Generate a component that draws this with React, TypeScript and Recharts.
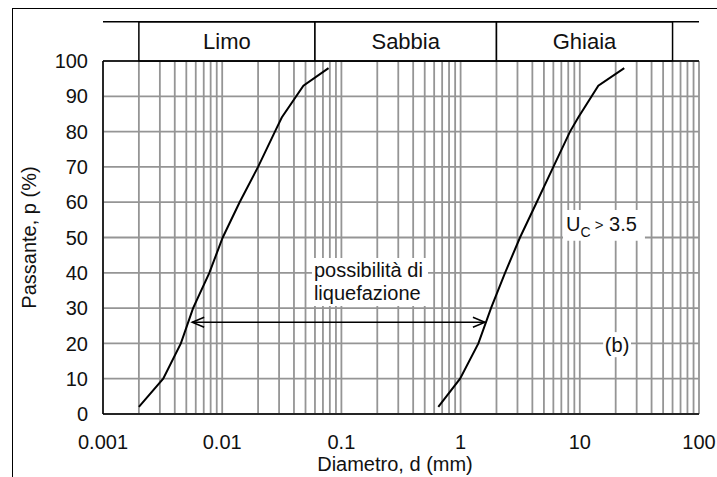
import { LineChart, Line, XAxis, YAxis, CartesianGrid, ReferenceArea, ReferenceLine } from "recharts";

const xTicks = [0.001, 0.01, 0.1, 1, 10, 100];
const yTicks = [0, 10, 20, 30, 40, 50, 60, 70, 80, 90, 100];
const decades = [0.001, 0.01, 0.1, 1, 10];
const steps = [1, 2, 3, 4, 5, 6, 7, 8, 9];
const gridX = [...decades.flatMap((d) => steps.map((s) => +(d * s).toPrecision(3))), 100];

// curva granulometrica limite fine / grossa
const curveFine = [
  { d: 0.002, p: 2 },
  { d: 0.0032, p: 10 },
  { d: 0.0045, p: 20 },
  { d: 0.0057, p: 30 },
  { d: 0.0078, p: 40 },
  { d: 0.0101, p: 50 },
  { d: 0.014, p: 60 },
  { d: 0.02, p: 70 },
  { d: 0.0277, p: 80 },
  { d: 0.0316, p: 84 },
  { d: 0.048, p: 93 },
  { d: 0.078, p: 98 },
];
const curveCoarse = [
  { d: 0.65, p: 2 },
  { d: 0.99, p: 10 },
  { d: 1.41, p: 20 },
  { d: 1.8, p: 30 },
  { d: 2.36, p: 40 },
  { d: 3.15, p: 50 },
  { d: 4.35, p: 60 },
  { d: 6.0, p: 70 },
  { d: 8.28, p: 80 },
  { d: 9.7, p: 84 },
  { d: 14.3, p: 93 },
  { d: 23.6, p: 98 },
];

const classes = [
  { name: "Limo", from: 0.002, to: 0.06 },
  { name: "Sabbia", from: 0.06, to: 2 },
  { name: "Ghiaia", from: 2, to: 60 },
];
const headerTop = 111.1;
const arrow = { from: 0.0056, to: 1.6, p: 26 };
const liqBox = { x1: 0.0566, x2: 0.533, y1: 30.6, y2: 44.2 };
const ucBox = { x1: 7.23, x2: 35.2, y1: 49.1, y2: 57.8 };
const bBox = { x1: 15.7, x2: 26.9, y1: 16.1, y2: 23.2 };

const FONT = "'Liberation Sans', Arial, sans-serif";

function ArrowShape(props: any) {
  const { x1, y1, x2, y2 } = props;
  const h = 12;
  const w = 5;
  return (
    <g stroke="#000" strokeWidth={1.5} fill="none">
      <line x1={x1} y1={y1} x2={x2} y2={y2} />
      <polyline points={`${x1 + h},${y1 - w} ${x1},${y1} ${x1 + h},${y1 + w}`} />
      <polyline points={`${x2 - h},${y2 - w} ${x2},${y2} ${x2 - h},${y2 + w}`} />
    </g>
  );
}

function LiqLabel(props: any) {
  const { x, y } = props.viewBox;
  return (
    <text x={x + 2} y={y} fontSize={20} fill="#111">
      <tspan x={x + 2} dy={19}>possibilità di</tspan>
      <tspan x={x + 2} dy={23.5}>liquefazione</tspan>
    </text>
  );
}

function UcLabel(props: any) {
  const { x, y } = props.viewBox;
  return (
    <text x={x + 3} y={y + 21} fontSize={20} fill="#111">
      U<tspan fontSize={14} dy={6}>C</tspan>
      <tspan fontSize={15} dy={-7}> {">"}</tspan>
      <tspan dy={1}> 3.5</tspan>
    </text>
  );
}

export default function App() {
  return (
    <div style={{ position: "absolute", left: 0, top: 0, width: 717, height: 477, background: "#fff", fontFamily: FONT }}>
      <div style={{ position: "absolute", left: 12, top: 8, width: 705, height: 469, borderLeft: "1px solid #000", borderTop: "1px solid #000" }} />
      <div style={{ position: "absolute", left: 0, top: 0 }}>
        <LineChart width={717} height={477} margin={{ top: 61, right: 18, bottom: 5, left: 23 }}>
          <CartesianGrid stroke="#959595" strokeWidth={1.8} verticalValues={gridX} horizontalValues={yTicks} />
          <XAxis
            dataKey="d"
            type="number"
            scale="log"
            domain={[0.001, 100]}
            allowDataOverflow
            ticks={xTicks}
            interval={0}
            tickFormatter={(v) => String(v)}
            height={58}
            tickSize={0}
            tickMargin={21}
            tickLine={false}
            axisLine={{ stroke: "#000", strokeWidth: 1.5 }}
            tick={{ fill: "#111", fontSize: 20 }}
            label={{ value: "Diametro, d (mm)", position: "insideBottom", offset: 1, dx: -6, fill: "#111", fontSize: 20 }}
          />
          <YAxis
            type="number"
            domain={[0, 100]}
            ticks={yTicks}
            interval={0}
            width={80}
            tickSize={0}
            tickMargin={15}
            tickLine={false}
            axisLine={{ stroke: "#000", strokeWidth: 1.5 }}
            tick={{ fill: "#111", fontSize: 20 }}
            label={{ value: "Passante, p (%)", angle: -90, position: "insideLeft", offset: 6, textAnchor: "middle", style: { textAnchor: "middle" }, fill: "#111", fontSize: 20 }}
          />
          {classes.map((c) => (
            <ReferenceArea
              key={c.name}
              x1={c.from}
              x2={c.to}
              y1={100}
              y2={headerTop}
              ifOverflow="visible"
              fill="#fff"
              fillOpacity={1}
              stroke="#000"
              strokeWidth={1.5}
              label={{ value: c.name, position: "center", fontSize: 22, fill: "#111" }}
            />
          ))}
          <ReferenceLine segment={[{ x: 0.001, y: headerTop }, { x: 100, y: headerTop }]} ifOverflow="visible" stroke="#000" strokeWidth={1.5} />
          <ReferenceLine y={100} stroke="#000" strokeWidth={1.5} ifOverflow="visible" />
          <ReferenceArea {...liqBox} fill="#fff" fillOpacity={1} stroke="none" label={<LiqLabel />} />
          <ReferenceArea {...ucBox} fill="#fff" fillOpacity={1} stroke="none" label={<UcLabel />} />
          <ReferenceArea {...bBox} fill="#fff" fillOpacity={1} stroke="none" label={{ value: "(b)", position: "center", fontSize: 20, fill: "#111" }} />
          <ReferenceLine
            segment={[{ x: arrow.from, y: arrow.p }, { x: arrow.to, y: arrow.p }]}
            shape={ArrowShape}
          />
          <Line data={curveFine} dataKey="p" type="linear" stroke="#000" strokeWidth={2} dot={false} activeDot={false} isAnimationActive={false} />
          <Line data={curveCoarse} dataKey="p" type="linear" stroke="#000" strokeWidth={2} dot={false} activeDot={false} isAnimationActive={false} />
        </LineChart>
      </div>
    </div>
  );
}
